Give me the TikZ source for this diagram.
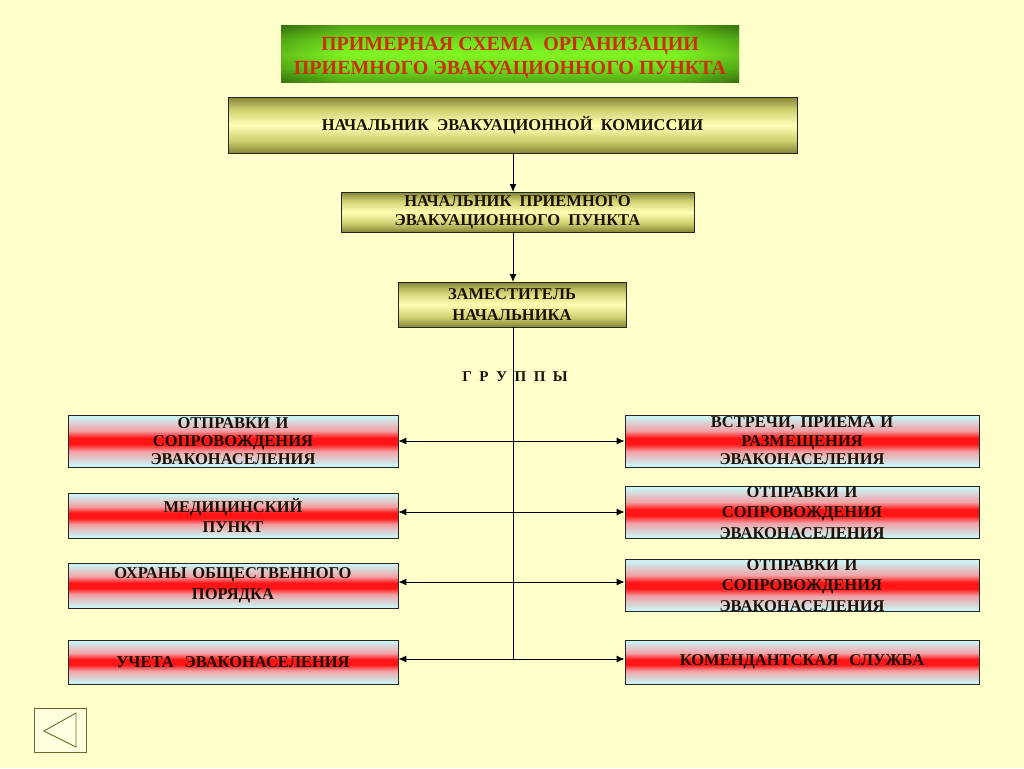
\documentclass[tikz,border=0pt]{standalone}
\usepackage{fontspec}
\setmainfont{Liberation Serif}
\usetikzlibrary{arrows.meta}
\definecolor{bg}{HTML}{FFFFCC}
\definecolor{cyanl}{HTML}{CCF2F4}
\definecolor{redm}{HTML}{FF1515}
\definecolor{pinkm}{HTML}{F2A0A4}
\definecolor{olived}{HTML}{858535}
\definecolor{olivem}{HTML}{CFCF70}
\definecolor{olivel}{HTML}{FFFFB4}
\definecolor{greend}{HTML}{3A7410}
\definecolor{greenm}{HTML}{62CC18}
\definecolor{greenl}{HTML}{80F522}
\definecolor{titlered}{HTML}{CC2E0A}
\definecolor{txt}{HTML}{1A1005}
\pgfdeclareverticalshading{redband}{100bp}{color(0bp)=(cyanl); color(27bp)=(cyanl); color(40bp)=(pinkm); color(47bp)=(redm); color(53bp)=(redm); color(60bp)=(pinkm); color(73bp)=(cyanl); color(100bp)=(cyanl)}
\pgfdeclareverticalshading{oliveband}{100bp}{color(0bp)=(olived); color(25bp)=(olived); color(36bp)=(olivem); color(50bp)=(olivel); color(64bp)=(olivem); color(75bp)=(olived); color(100bp)=(olived)}
\pgfdeclareverticalshading{greenband}{100bp}{color(0bp)=(greend); color(25bp)=(greend); color(37bp)=(greenm); color(50bp)=(greenl); color(63bp)=(greenm); color(75bp)=(greend); color(100bp)=(greend)}
\pgfdeclarehorizontalshading{greenside}{100bp}{color(0bp)=(greend); color(25bp)=(greend); color(32bp)=(greenl); color(68bp)=(greenl); color(75bp)=(greend); color(100bp)=(greend)}
\tikzset{
  box/.style={draw=black!85, line width=0.8pt, align=center, inner sep=0pt,
    font=\fontsize{16.5}{20}\selectfont\bfseries, text=txt},
  olivebox/.style={box, shade, shading=oliveband},
  redbox/.style={box, shade, shading=redband, minimum width=330, text width=328},
  redboxr/.style={box, shade, shading=redband, minimum width=354, text width=352},
  conn/.style={draw=black, line width=1pt},
  tip/.style={-{Latex[length=8pt,width=7pt]}},
  tips/.style={{Latex[length=8pt,width=7pt]}-{Latex[length=8pt,width=7pt]}}
}
\begin{document}
\begin{tikzpicture}[x=1pt,y=-1pt]
\fill[bg] (0,0) rectangle (1024,768);
\useasboundingbox (0,0) rectangle (1024,768);
% title
\shade[shading=greenside] (281,26) rectangle (739,82);
\node[shade, shading=greenband, opacity=0.6, minimum width=458, minimum height=56, inner sep=0pt] (title) at (510,54) {};
\node[align=center, inner sep=0pt, font=\fontsize{20}{24}\selectfont\bfseries, text=titlered] (titletxt) at (510,58.5)
  {ПРИМЕРНАЯ СХЕМА\ \ ОРГАНИЗАЦИИ\\ПРИЕМНОГО ЭВАКУАЦИОННОГО ПУНКТА};
\node[olivebox, minimum width=569, minimum height=56] (chief) at (512.5,125)
  {НАЧАЛЬНИК\ \ ЭВАКУАЦИОННОЙ\ \ КОМИССИИ};
\node[olivebox, minimum width=353, minimum height=40, font=\fontsize{16.5}{19}\selectfont\bfseries] (head) at (517.5,212)
  {НАЧАЛЬНИК\ \ ПРИЕМНОГО\\ЭВАКУАЦИОННОГО\ \ ПУНКТА};
\node[olivebox, minimum width=228, minimum height=45, font=\fontsize{16.5}{21}\selectfont\bfseries] (dep) at (512,304.5)
  {ЗАМЕСТИТЕЛЬ\\НАЧАЛЬНИКА};
\node[font=\fontsize{15}{15}\selectfont\bfseries, text=txt] (groups) at (515,377) {Г\ \ Р\ \ У\ \ П\ \ П\ \ Ы};
% left boxes
\node[redbox, minimum height=52, font=\fontsize{16.5}{18}\selectfont\bfseries] (L1) at (233,441)
  {ОТПРАВКИ И\\СОПРОВОЖДЕНИЯ\\ЭВАКОНАСЕЛЕНИЯ};
\node[redbox, minimum height=45, font=\fontsize{16.5}{20}\selectfont\bfseries] (L2) at (233,515.5)
  {МЕДИЦИНСКИЙ\\ПУНКТ};
\node[redbox, minimum height=45, font=\fontsize{16.5}{21}\selectfont\bfseries] (L3) at (233,585.5)
  {ОХРАНЫ ОБЩЕСТВЕННОГО\\ПОРЯДКА};
\node[redbox, minimum height=44] (L4) at (233,662)
  {УЧЕТА\ \ ЭВАКОНАСЕЛЕНИЯ};
% right boxes
\node[redboxr, minimum height=52, font=\fontsize{16.5}{18.5}\selectfont\bfseries] (R1) at (802,441)
  {ВСТРЕЧИ, ПРИЕМА И\\РАЗМЕЩЕНИЯ\\ЭВАКОНАСЕЛЕНИЯ};
\node[redboxr, minimum height=51, font=\fontsize{16.5}{20.5}\selectfont\bfseries] (R2) at (802,512.5)
  {ОТПРАВКИ И\\СОПРОВОЖДЕНИЯ\\ЭВАКОНАСЕЛЕНИЯ};
\node[redboxr, minimum height=45, font=\fontsize{16.5}{20.5}\selectfont\bfseries] (R3) at (802,585.5)
  {ОТПРАВКИ И\\СОПРОВОЖДЕНИЯ\\ЭВАКОНАСЕЛЕНИЯ};
\node[redboxr, minimum height=44] (R4) at (802,662)
  {КОМЕНДАНТСКАЯ\ \ СЛУЖБА};
% connectors
\coordinate (h1) at (513,441);
\coordinate (h2) at (513,512);
\coordinate (h3) at (513,582);
\coordinate (h4) at (513,659);
\draw[conn, tip] (513,153) -- (513,192);
\draw[conn, tip] (513,232) -- (513,282);
\draw[conn] (513,327) -- (h4);
\draw[conn, tips] (L1.east |- h1) -- (R1.west |- h1);
\draw[conn, tips] (L2.east |- h2) -- (R2.west |- h2);
\draw[conn, tips] (L3.east |- h3) -- (R3.west |- h3);
\draw[conn, tips] (L4.east |- h4) -- (R4.west |- h4);
% back button
\node[draw=olived!80!black, line width=0.9pt, fill=bg!60!white, minimum width=52, minimum height=44, inner sep=0pt] (btn) at (60,730) {};
\draw[draw=olived!80!black, line width=0.9pt] (44,731) -- (76,713) -- (76,747) -- cycle;
\end{tikzpicture}
\end{document}
